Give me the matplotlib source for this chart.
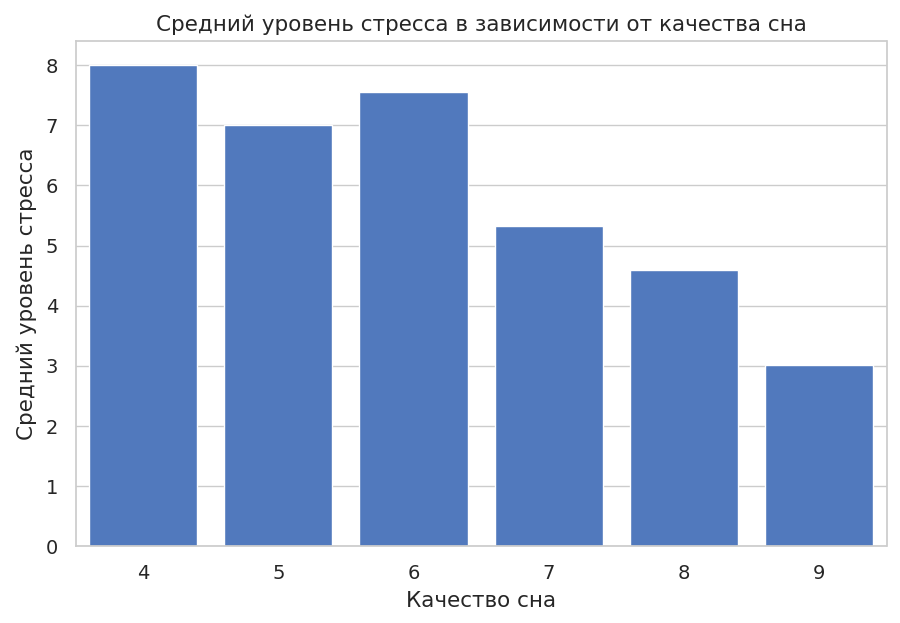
import matplotlib
matplotlib.use("Agg")
import matplotlib.pyplot as plt
import seaborn as sns

sns.set_theme(style="whitegrid")
plt.rcParams['font.family'] = ['DejaVu Sans']

categories = ["4", "5", "6", "7", "8", "9"]
values = [8.0, 7.0, 7.56, 5.33, 4.59, 3.02]

fig, ax = plt.subplots(figsize=(9, 6.23), dpi=100)
ax.bar(range(len(categories)), values, width=0.8, color="#5179bd")
ax.set_xticks(range(len(categories)))
ax.set_xticklabels(categories)
ax.set_xlim(-0.5, len(categories) - 0.5)
ax.set_ylim(0, 8.4)
ax.xaxis.grid(False)
ax.set_title("Средний уровень стресса в зависимости от качества сна", fontsize=15.5, pad=7)
ax.set_xlabel("Качество сна", fontsize=15.5, labelpad=6)
ax.set_ylabel("Средний уровень стресса", fontsize=15.5, labelpad=6)
ax.tick_params(labelsize=14, pad=6.5)
fig.subplots_adjust(left=0.084, right=0.985, top=0.934, bottom=0.123)
fig.savefig("out.png", dpi=100)
